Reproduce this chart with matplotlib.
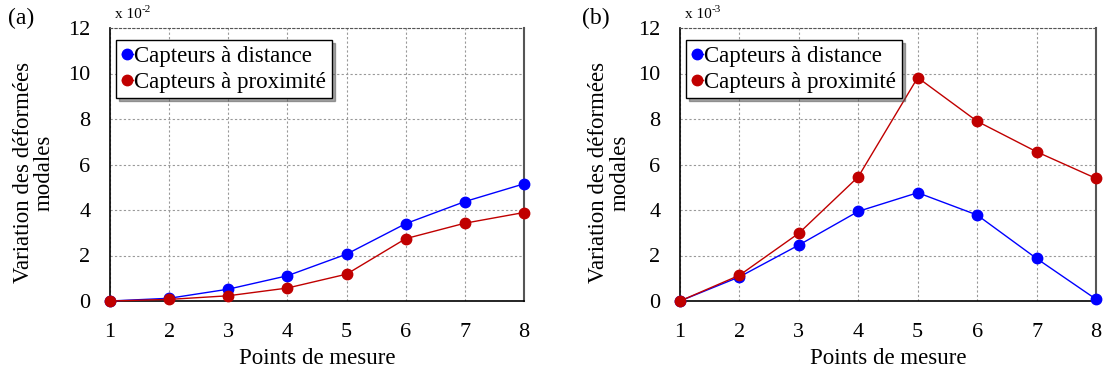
import matplotlib.pyplot as plt
import numpy as np

plt.rcParams['font.family'] = ['Liberation Serif', 'DejaVu Serif']

points = [1, 2, 3, 4, 5, 6, 7, 8]

# (a) values in units of 10^-2
dist_a = [0, 0.12, 0.52, 1.11, 2.06, 3.40, 4.37, 5.15]
prox_a = [0, 0.07, 0.23, 0.57, 1.18, 2.74, 3.42, 3.89]

# (b) values in units of 10^-3
dist_b = [0, 1.06, 2.46, 3.94, 4.76, 3.78, 1.87, 0.08]
prox_b = [0, 1.13, 2.98, 5.46, 9.82, 7.90, 6.56, 5.39]

yticks = [0, 2, 4, 6, 8, 10, 12]
labels = ['Capteurs à distance', 'Capteurs à proximité']
blue = '#0000ff'
red = '#c00000'

fig = plt.figure(figsize=(11.04, 3.73), dpi=100)
W, H = 1104, 373
ax_a = fig.add_axes([110 / W, 1 - 301 / H, 414 / W, 273 / H])
ax_b = fig.add_axes([680 / W, 1 - 301 / H, 416 / W, 273 / H])

panels = [(ax_a, dist_a, prox_a, '(a)', '-2', 8, -0.133),
          (ax_b, dist_b, prox_b, '(b)', '-3', 582, -0.12)]

for ax, dist, prox, tag, expo, tag_x, lab_x in panels:
    ax.plot(points, dist, color=blue, lw=1, marker='o', ms=7.5, label=labels[0], clip_on=False, zorder=3)
    ax.plot(points, prox, color=red, lw=1, marker='o', ms=7.5, label=labels[1], clip_on=False, zorder=4)
    ax.set_xlim(1, 8)
    ax.set_ylim(0, 12)
    ax.set_xticks(points)
    ax.set_yticks(yticks)
    ax.grid(True, color='#999999', ls=(0, (2, 2)), lw=0.8)
    ax.tick_params(length=0, labelsize=16)
    ax.tick_params(axis='y', pad=14)
    ax.tick_params(axis='x', pad=16)
    ax.spines['left'].set_linewidth(1.2)
    ax.spines['bottom'].set_linewidth(1.2)
    ax.spines['top'].set_linestyle((0, (2, 2)))
    ax.spines['top'].set_color('#555555')
    ax.spines['right'].set_color('#555555')
    ax.spines['right'].set_linewidth(1.5)
    ax.set_xlabel('Points de mesure', fontsize=16.5, labelpad=4)
    ax.set_ylabel('Variation des déformées\nmodales', fontsize=16.5, linespacing=1.0)
    ax.yaxis.set_label_coords(lab_x, 0.47)
    fig.text(tag_x / W, 1 - 18 / H, tag, fontsize=17, ha='left', va='center')
    # scale factor note above the y axis
    ax.text(0.012, 1.05, 'x 10', transform=ax.transAxes, fontsize=11, ha='left', va='center')
    ax.annotate(expo, xy=(0.012, 1.05), xycoords='axes fraction', xytext=(19.5, 3.5),
                textcoords='offset points', fontsize=8, ha='left', va='center')
    leg = ax.legend(loc='upper left', bbox_to_anchor=(0.014, 0.955), fontsize=16.5, frameon=True,
                    fancybox=False, shadow=True, handlelength=0.5, handletextpad=0.05,
                    borderpad=0.25, labelspacing=0.2, borderaxespad=0.0)
    leg.get_frame().set_edgecolor('black')
    leg.get_frame().set_linewidth(1.0)

fig.savefig('out.png', dpi=100)
